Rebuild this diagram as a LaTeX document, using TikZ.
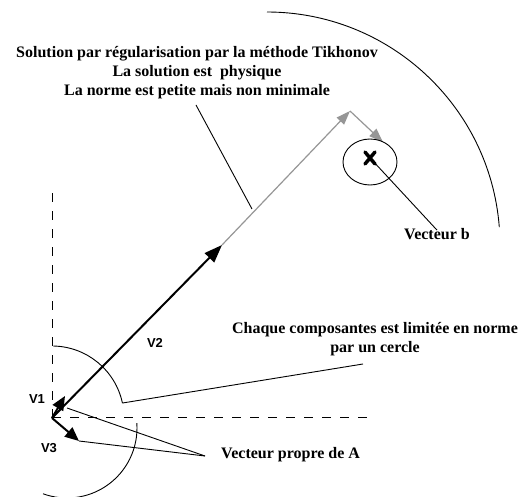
\documentclass[tikz,border=0pt]{standalone}
\usepackage{fontspec}
\setmainfont{Liberation Serif}
\setsansfont{Liberation Sans}
\usetikzlibrary{arrows.meta,shapes.geometric,calc}
\definecolor{vgray}{RGB}{150,150,150}
\tikzset{
  lbl/.style={font=\fontsize{16}{19}\selectfont\bfseries, inner sep=0pt, align=center},
  vlbl/.style={font=\fontsize{13}{15}\selectfont\sffamily\bfseries, inner sep=0pt},
  axis/.style={dash pattern=on 9pt off 9pt, line width=1pt},
  thin/.style={line width=0.9pt},
  vec/.style={line width=2pt, -{Triangle[length=18pt,width=13pt]}},
  svec/.style={line width=2pt, -{Triangle[length=14pt,width=12pt]}},
  gvec/.style={vgray, line width=1.2pt, -{Triangle[length=14pt,width=10pt]}},
}
\begin{document}
\begin{tikzpicture}[x=1pt,y=1pt]
\useasboundingbox (0,0) rectangle (523,-497);
\begin{scope}
\clip (0,0) rectangle (523,-497);
% axes
\coordinate (O) at (52,-418);
\coordinate (ytop) at (52,-190);
\coordinate (xend) at (370,-418);
\draw[axis] (O) -- (ytop);
\draw[axis] (O) -- (xend);
% arcs
\coordinate (bigc) at (267,-245);
\draw[thin] (bigc) ++(90:233) arc[start angle=90, end angle=4.4, radius=233];
\draw[thin] (O) ++(89:72) coordinate (a1s) arc[start angle=89, end angle=12, radius=72] coordinate (a1e);
\coordinate (lowc) at (67,-428);
\draw[thin] (lowc) ++(4:70) arc[start angle=4, end angle=-110, radius=70];
\end{scope}
% vectors
\coordinate (V2tip) at (222,-245);
\coordinate (G1) at (350,-111);
\coordinate (G2) at (383,-142);
\coordinate (V1tip) at (65,-396);
\coordinate (V3tip) at (79,-441);
\draw[gvec] (V2tip) -- (G1);
\draw[gvec] (G1) -- (G2);
\draw[vec] (O) -- (V2tip);
\draw[svec] (O) -- (V1tip);
\draw[svec] (O) -- (V3tip);
% vector b
\node[draw, thin, ellipse, minimum width=54pt, minimum height=46pt, inner sep=0pt] (bcirc) at (370,-162) {};
\coordinate (bx) at (370,-158);
\draw[line width=3.5pt, line cap=round] ($(bx)+(-5,-6)$) -- ($(bx)+(5,6)$);
\draw[line width=3.5pt, line cap=round] ($(bx)+(-5,6)$) -- ($(bx)+(5,-6)$);
% labels
\node[lbl] (title) at (197,-73) {Solution par régularisation par la méthode Tikhonov\\La solution est \ physique\\La norme est petite mais non minimale};
\node[lbl] (vb) at (437,-234) {Vecteur b};
\node[lbl] (chaque) at (375,-339) {Chaque composantes est limitée en norme\\par un cercle};
\node[lbl, anchor=west] (vp) at (221,-455) {Vecteur propre de A};
\node[vlbl] (v1) at (37,-399) {V1};
\node[vlbl] (v2) at (155,-343) {V2};
\node[vlbl] (v3) at (49,-448) {V3};
% leader lines
\coordinate (tl1) at (196,-105);
\coordinate (tl2) at (252,-209);
\draw[thin] (tl1) -- (tl2);
\coordinate (bl) at (372,-160);
\draw[thin] (bl) -- ($(vb.north)+(0,-2)$);
\coordinate (cl) at (363,-364);
\draw[thin] (a1e) -- (cl);
\coordinate (vpl) at (205,-456);
\coordinate (vp1) at (67,-408);
\draw[thin] (vpl) -- (vp1);
\draw[thin] (vpl) -- (V3tip);
\end{tikzpicture}
\end{document}
